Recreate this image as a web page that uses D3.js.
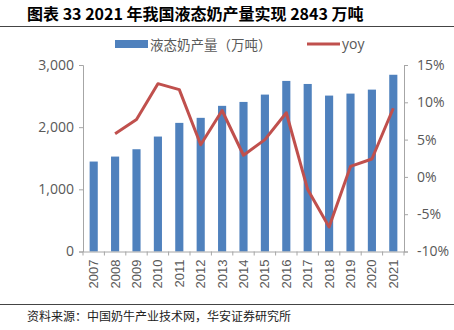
<!DOCTYPE html>
<html>
<head>
<meta charset="utf-8">
<script src="https://cdn.jsdelivr.net/npm/d3@7"></script>
<style>
  body { margin: 0; background: #fff; }
  text { font-family: "Liberation Sans", "Noto Sans CJK SC", sans-serif; }
</style>
</head>
<body>
<script>
// data
var years = ["2007","2008","2009","2010","2011","2012","2013","2014","2015","2016","2017","2018","2019","2020","2021"];
var output = [1447,1527,1645,1849,2069,2150,2343,2406,2524,2744,2695,2508,2540,2604,2843];
var yoy = [null,5.8,7.7,12.5,11.7,4.3,8.9,2.9,5.0,8.6,-1.7,-6.7,1.4,2.4,9.2];
var leftTicks = [0,1000,2000,3000];
var rightTicks = [-10,-5,0,5,10,15];

var W = 454, H = 330;
var svg = d3.select("body").append("svg").attr("width", W).attr("height", H);

// plot box (window.top is reserved, so own names)
var pLeft = 83, pRight = 404, pTop = 65, pBottom = 251.5;
var gray = "#595959", axisCol = "#a6a6a6";

// title
svg.append("text").attr("x", 27).attr("y", 20)
  .style("font-family", "'Noto Sans CJK SC'").style("font-weight", "bold")
  .style("font-size", "16px").attr("fill", "#000")
  .text("图表 33 2021 年我国液态奶产量实现 2843 万吨");
svg.append("line").attr("x1", 0).attr("x2", W).attr("y1", 26.5).attr("y2", 26.5)
  .attr("stroke", "#444").attr("stroke-width", 1);

var x = d3.scaleBand().domain(years).range([pLeft, pRight]).paddingInner(0.62).paddingOuter(0.31);
var yL = d3.scaleLinear().domain([0, 3000]).range([pBottom, pTop]);
var yR = d3.scaleLinear().domain([-10, 15]).range([pBottom, pTop]);

// bars
svg.append("g").selectAll("rect").data(output).enter().append("rect")
  .attr("x", function (d, i) { return x(years[i]); })
  .attr("width", x.bandwidth())
  .attr("y", function (d) { return yL(d); })
  .attr("height", function (d) { return pBottom - yL(d); })
  .attr("fill", "#4f81bd");

// left axis
var gl = svg.append("g").attr("transform", "translate(" + pLeft + ",0)")
  .call(d3.axisLeft(yL).tickValues(leftTicks).tickSize(4).tickPadding(5).tickFormat(d3.format(",")));
// right axis
var gr = svg.append("g").attr("transform", "translate(" + pRight + ",0)")
  .call(d3.axisRight(yR).tickValues(rightTicks).tickSize(4).tickPadding(9).tickFormat(function (d) { return d + "%"; }));
[gl, gr].forEach(function (g) {
  g.select(".domain").attr("stroke", axisCol);
  g.selectAll(".tick line").attr("stroke", axisCol);
  g.selectAll(".tick text").attr("fill", gray).style("font-size", "14px")
    .style("font-family", "'Open Sans', 'Liberation Sans', sans-serif");
});

// x axis
var gx = svg.append("g").attr("transform", "translate(0," + pBottom + ")")
  .call(d3.axisBottom(x).tickSize(0).tickPadding(8));
gx.select(".domain").attr("stroke", axisCol);
gx.selectAll(".tick text").attr("fill", gray).style("font-size", "13px")
  .style("font-family", "'Liberation Sans', sans-serif")
  .attr("transform", "rotate(-90)").attr("text-anchor", "end")
  .attr("x", -8).attr("y", 0).attr("dy", "0.35em");
// tick marks between categories
var step = x.step();
svg.append("g").selectAll("line").data(d3.range(years.length + 1)).enter().append("line")
  .attr("x1", function (i) { return pLeft + i * step; })
  .attr("x2", function (i) { return pLeft + i * step; })
  .attr("y1", pBottom).attr("y2", pBottom + 4)
  .attr("stroke", axisCol);

// yoy line
var pts = years.map(function (y, i) { return [y, yoy[i]]; }).filter(function (p) { return p[1] !== null; });
svg.append("path").datum(pts)
  .attr("fill", "none").attr("stroke", "#c0504d").attr("stroke-width", 3)
  .attr("stroke-linejoin", "round")
  .attr("d", d3.line()
    .x(function (p) { return x(p[0]) + x.bandwidth() / 2; })
    .y(function (p) { return yR(p[1]); }));

// legend
var lg = svg.append("g");
lg.append("rect").attr("x", 115).attr("y", 40).attr("width", 33).attr("height", 8).attr("fill", "#4f81bd");
lg.append("text").attr("x", 150).attr("y", 49.5).attr("fill", gray)
  .style("font-size", "13.5px").style("font-family", "'Noto Sans CJK SC'")
  .text("液态奶产量（万吨）");
lg.append("line").attr("x1", 307).attr("x2", 340).attr("y1", 44).attr("y2", 44)
  .attr("stroke", "#c0504d").attr("stroke-width", 3);
lg.append("text").attr("x", 342).attr("y", 48.5).attr("fill", gray)
  .style("font-size", "14px").style("font-family", "'Open Sans', sans-serif")
  .text("yoy");

// source
svg.append("line").attr("x1", 0).attr("x2", W).attr("y1", 304.5).attr("y2", 304.5)
  .attr("stroke", "#444").attr("stroke-width", 1);
svg.append("text").attr("x", 27).attr("y", 321)
  .style("font-family", "'Noto Sans CJK SC'").style("font-size", "12px").attr("fill", "#222")
  .text("资料来源：中国奶牛产业技术网，华安证券研究所");
</script>
</body>
</html>
